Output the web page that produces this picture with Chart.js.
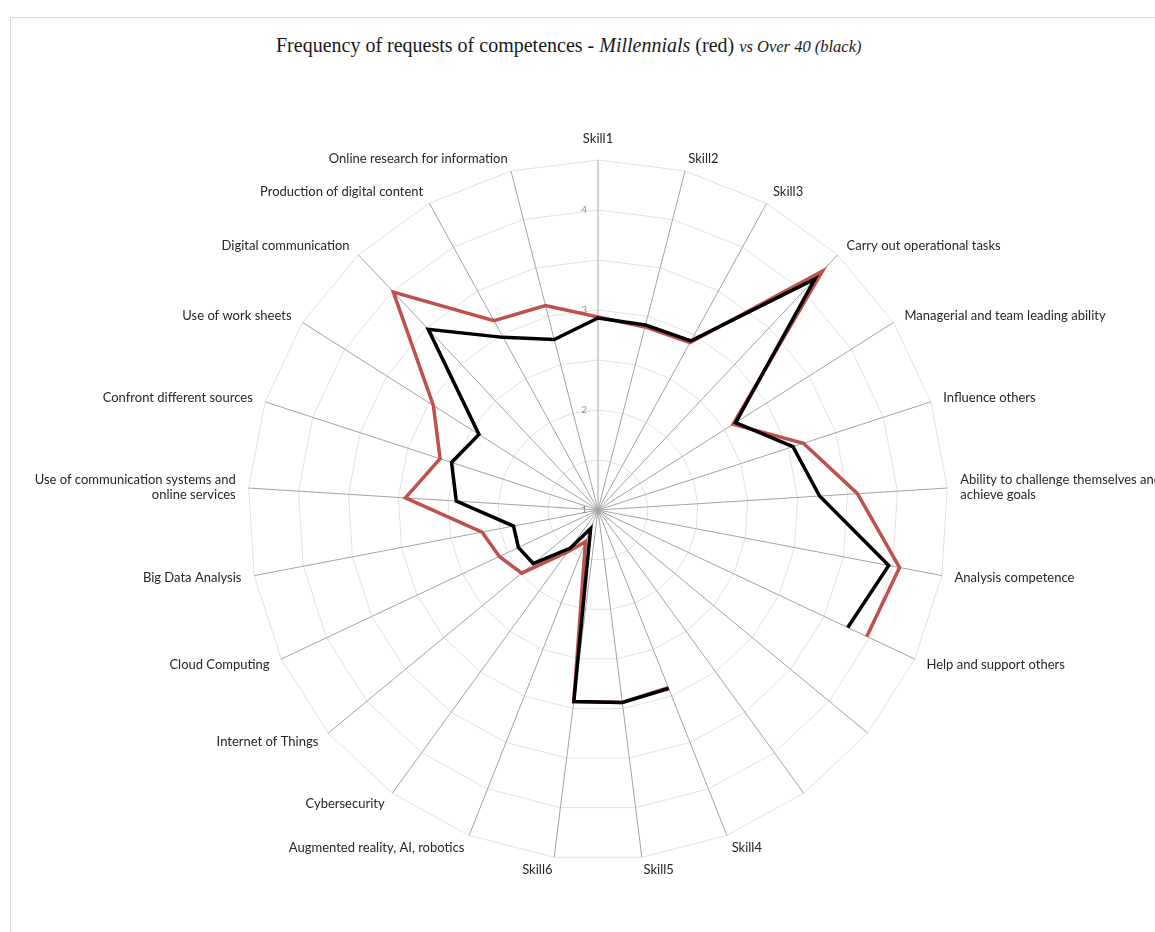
<!DOCTYPE html>
<html lang="en">
<head>
    <meta charset="UTF-8">
    <title>Frequency of requests of competences</title>
    <style>
        html, body { margin: 0; padding: 0; background: #fff; overflow: hidden; }
        /* light frame round the chart, as in the original figure */
        #frame { position: absolute; left: 10px; top: 17px; width: 1200px; height: 1000px; border: 1px solid #d9d9d9; }
        #title {
            position: absolute; left: 276px; top: 34px;
            font-family: "Liberation Serif", "Times New Roman", serif;
            font-size: 20px; color: #1a1a1a; white-space: nowrap;
        }
        #title .small { font-size: 16.5px; }
        #radar { position: absolute; left: 0; top: 0; }
    </style>
</head>
<body>
    <div id="frame"></div>
    <div id="title">Frequency of requests of competences - <i>Millennials</i> (red) <i class="small">vs Over 40 (black)</i></div>
    <canvas id="radar" width="1155" height="932"></canvas>

    <script src="https://cdn.jsdelivr.net/npm/chart.js"></script>
    <script>
        const skills = [
            'Skill1', 'Skill2', 'Skill3', 'Carry out operational tasks',
            'Managerial and team leading ability', 'Influence others',
            ['Ability to challenge themselves and', 'achieve goals'],
            'Analysis competence', 'Help and support others', '', '',
            'Skill4', 'Skill5', 'Skill6', 'Augmented reality, AI, robotics',
            'Cybersecurity', 'Internet of Things', 'Cloud Computing', 'Big Data Analysis',
            ['Use of communication systems and', 'online services'],
            'Confront different sources', 'Use of work sheets', 'Digital communication',
            'Production of digital content', 'Online research for information'
        ];

        // Millennials (red) and Over 40 (black); the two unlabeled axes are empty
        const millennials = [2.93, 2.89, 2.91, 4.28, 2.6, 3.16, 3.6, 4.07, 3.97, null, null,
                             2.91, 2.94, 2.93, 1.34, 1.52, 1.99, 2.09, 2.18, 2.93, 2.66, 2.95, 3.99, 3.16, 3.11];
        const over40 = [2.92, 2.91, 2.93, 4.17, 2.63, 3.05, 3.22, 3.96, 3.76, null, null,
                        2.92, 2.94, 2.93, 1.2, 1.47, 1.84, 1.88, 1.86, 2.42, 2.54, 2.41, 3.48, 2.97, 2.76];

        const scaleMin = 1;
        const scaleMax = 4.5;

        // keep the radar at the same centre and size as the original picture and
        // put each axis label next to the end of its spoke, vertically centred (Excel style)
        const CENTER_X = 598, CENTER_Y = 510, RADIUS = 350, LABEL_GAP = 13;
        function pinRadar(scale) {
            scale.xCenter = CENTER_X;
            scale.yCenter = CENTER_Y;
            scale.drawingArea = RADIUS;

            const lineHeight = scale.options.pointLabels.font.size * 1.2;
            (scale._pointLabelItems || []).forEach((item, i) => {
                const lines = [].concat(scale._pointLabels[i]).length;
                const h = lines * lineHeight;
                const p = scale.getPointPosition(i, RADIUS + LABEL_GAP);
                const deg = Math.round(i * 360 / skills.length);
                item.textAlign = (deg === 0 || deg === 180) ? 'center' : (deg < 180 ? 'left' : 'right');
                item.x = p.x;
                item.y = deg === 0 ? p.y - h : p.y - h / 2;
                item.top = item.y;
                item.bottom = item.y + h;
            });
        }

        new Chart(document.getElementById('radar'), {
            type: 'radar',
            data: {
                labels: skills,
                datasets: [
                    { label: 'Over 40', data: over40, borderColor: '#000000', backgroundColor: 'transparent',
                      borderWidth: 3.5, fill: false, order: 1 },
                    { label: 'Millennials', data: millennials, borderColor: '#c0504d', backgroundColor: 'transparent',
                      borderWidth: 3.5, fill: false, order: 2 }
                ]
            },
            options: {
                responsive: false,
                animation: false,
                spanGaps: false,
                elements: {
                    point: { radius: 0, hoverRadius: 0 },
                    line: { tension: 0, borderJoinStyle: 'miter' }
                },
                plugins: {
                    legend: { display: false },
                    tooltip: { enabled: false }
                },
                scales: {
                    r: {
                        min: scaleMin,
                        max: scaleMax,
                        ticks: {
                            stepSize: 0.5,
                            showLabelBackdrop: false,
                            color: '#8c8c8c',
                            font: { family: 'Lato', size: 10 },
                            // only whole numbers, nudged left of the vertical axis
                            callback: (v) => Number.isInteger(v) ? v + '\u2003\u2003\u2003\u2002' : ''
                        },
                        // repeat the first tick so the "1" at the centre gets drawn too
                        afterBuildTicks: (scale) => { scale.ticks = [{ value: scaleMin }].concat(scale.ticks); },
                        grid: { circular: false, color: '#e2e2e2', lineWidth: 1 },
                        angleLines: { color: '#a3a3a3', lineWidth: 1 },
                        pointLabels: {
                            color: '#262626',
                            font: { family: 'Lato', size: 13 },
                            padding: 5
                        },
                        afterFit: pinRadar
                    }
                }
            }
        });
    </script>
</body>
</html>
